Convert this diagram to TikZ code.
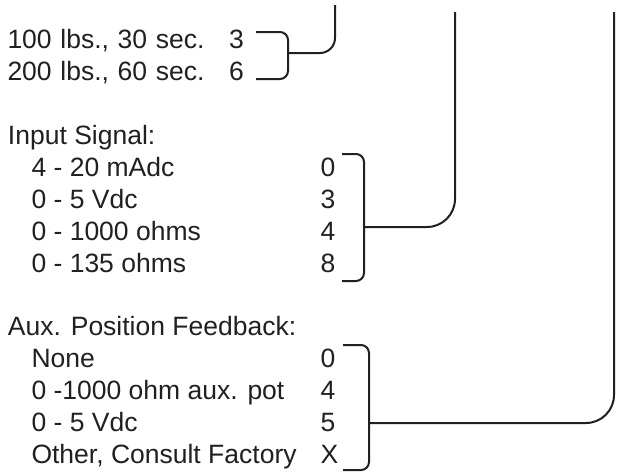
\documentclass[tikz,border=0pt]{standalone}
\usepackage{fontspec}
\setmainfont{Liberation Sans}
\definecolor{ink}{RGB}{35,31,32}
\begin{document}
\begin{tikzpicture}[x=1pt,y=-1pt,
  txt/.style={anchor=base west,inner sep=0pt,outer sep=0pt,text=ink,font=\fontsize{26.5}{30}\selectfont},
  wide/.style={txt,execute at begin node={\spaceskip=8.7pt\relax\xspaceskip=8.7pt\relax}},
  brk/.style={draw=ink,line width=2pt,rounded corners=8pt},
  lead/.style={draw=ink,line width=2pt,rounded corners=28pt}]
\useasboundingbox (0,0) rectangle (618,471);
% group 1
\node[wide] (l1a) at (7.5,48) {100 lbs., 30 sec.};
\node[wide] (l1b) at (7.5,80) {200 lbs., 60 sec.};
\node[txt] (n1a) at (229,48) {3};
\node[txt] (n1b) at (229,80) {6};
% group 2
\node[txt] (h2) at (8,144) {Input Signal:};
\node[txt] (l2a) at (31.5,176) {4 - 20 mAdc};
\node[txt] (l2b) at (31.5,208) {0 - 5 Vdc};
\node[txt] (l2c) at (31.5,240) {0 - 1000 ohms};
\node[txt] (l2d) at (31.5,272) {0 - 135 ohms};
\node[txt] (n2a) at (320.5,176) {0};
\node[txt] (n2b) at (320.5,208) {3};
\node[txt] (n2c) at (320.5,240) {4};
\node[txt] (n2d) at (320.5,272) {8};
% group 3
\node[txt] (h3) at (8,335) {Aux. Position Feedback:};
\node[txt] (l3a) at (31.5,367) {None};
\node[txt] (l3b) at (31.5,399) {0 -1000 ohm aux. pot};
\node[txt] (l3c) at (31.5,431) {0 - 5 Vdc};
\node[txt] (l3d) at (31.5,463) {Other, Consult Factory};
\node[txt] (n3a) at (320.5,367) {0};
\node[txt] (n3b) at (320.5,399) {4};
\node[txt] (n3c) at (320.5,431) {5};
\node[txt] (n3d) at (320.5,463) {X};
% bracket coordinates
\coordinate (b1t) at (256,32);
\coordinate (b1b) at (256,79);
\coordinate (b1m) at (288,53);
\coordinate (t1) at (335,5);
\coordinate (b2t) at (342,154);
\coordinate (b2b) at (342,281);
\coordinate (b2m) at (364,227);
\coordinate (t2) at (455,12);
\coordinate (b3t) at (343,345);
\coordinate (b3b) at (343,470);
\coordinate (b3m) at (369,423);
\coordinate (t3) at (614,12);
% brackets
\draw[brk] (b1t) -| (b1m) |- (b1b);
\draw[lead,rounded corners=15pt] (b1m) -| (t1);
\draw[brk] (b2t) -| (b2m) |- (b2b);
\draw[lead] (b2m) -| (t2);
\draw[brk] (b3t) -| (b3m) |- (b3b);
\draw[lead] (b3m) -| (t3);
\end{tikzpicture}
\end{document}
